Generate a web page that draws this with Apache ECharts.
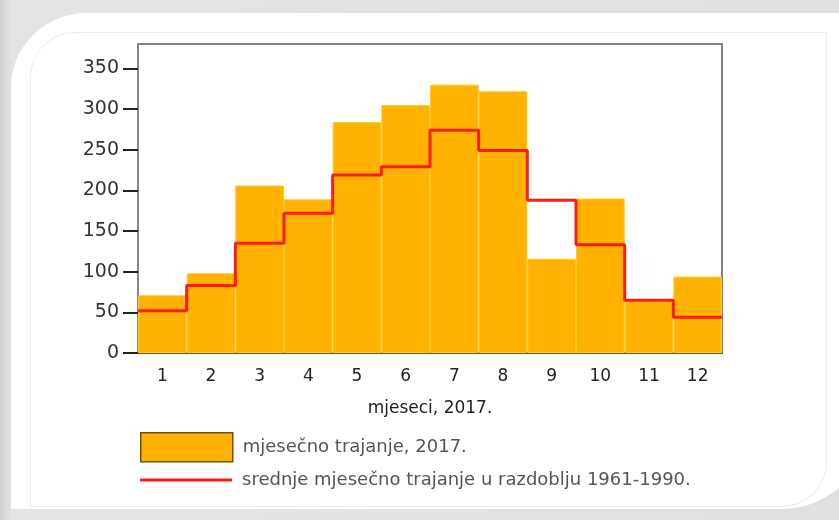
<!DOCTYPE html>
<html>
<head>
<meta charset="utf-8">
<script src="https://cdn.jsdelivr.net/npm/echarts@6/dist/echarts.min.js"></script>
<style>
  html, body { margin: 0; padding: 0; }
  body { width: 839px; height: 520px; position: relative; overflow: hidden;
         background: linear-gradient(90deg, #d0d0d0 0px, #e4e4e4 12px, #e0e0e0 100%); }
  .card { position: absolute; left: 11px; top: 13px; width: 860px; height: 496px;
          background: #fff; border-radius: 75px 0 90px 0; }
  .inner { position: absolute; left: 30px; top: 32px; width: 795px; height: 473px;
           border: 1px solid #ececec; border-radius: 45px 0 45px 0; }
  #main { position: absolute; left: 0; top: 0; width: 839px; height: 520px; }
</style>
</head>
<body>
<div class="card"></div>
<div class="inner"></div>
<div id="main"></div>
<script>
// mjeseci
const months = ['1', '2', '3', '4', '5', '6', '7', '8', '9', '10', '11', '12'];
// mjesečno trajanje, 2017. (sati)
const sunHours2017 = [71, 98, 206, 189, 284, 305, 330, 322, 116, 190, 64, 94];
// srednje mjesečno trajanje 1961-1990.
const sunHoursMean = [52, 83, 135, 172, 219, 229, 274, 249, 188, 133, 65, 44];
const yTicks = [0, 50, 100, 150, 200, 250, 300, 350];

const barName = 'mjesečno trajanje, 2017.';
const lineName = 'srednje mjesečno trajanje u razdoblju 1961-1990.';

// stepenasta linija preko cijelog mjeseca: od početka prvog do kraja zadnjeg
const meanSteps = sunHoursMean.map((v, i) => [i, v]);
meanSteps.push([sunHoursMean.length, sunHoursMean[sunHoursMean.length - 1]]);

const chart = echarts.init(document.getElementById('main'));
chart.setOption({
  animation: false,
  backgroundColor: 'transparent',
  textStyle: { fontFamily: 'DejaVu Sans' },
  grid: {
    left: 138, right: 117, top: 44, bottom: 167,
    show: true,
    borderColor: '#808080',
    borderWidth: 2
  },
  legend: [{
    left: 140, top: 432,
    padding: 0,
    itemWidth: 92, itemHeight: 29,
    selectedMode: false,
    textStyle: { color: '#555', fontSize: 18, padding: [0, 0, 0, 5] },
    data: [{ name: barName, icon: 'rect', itemStyle: { borderColor: '#6b5200', borderWidth: 1.5 } }]
  }, {
    left: 140, top: 471,
    padding: 0,
    itemWidth: 92, itemHeight: 18,
    selectedMode: false,
    textStyle: { color: '#555', fontSize: 18, padding: [0, 0, 0, 5] },
    data: [{ name: lineName, icon: 'path://M0,8.5 L92,8.5 L92,11.5 L0,11.5 Z', itemStyle: { color: '#ff1a1a' } }]
  }],
  xAxis: [{
    type: 'category',
    data: months,
    name: 'mjeseci, 2017.',
    nameLocation: 'middle',
    nameGap: 47,
    nameTextStyle: { color: '#222', fontSize: 17 },
    axisLine: { lineStyle: { color: '#6e5a1e', width: 2 } },
    axisTick: { length: 8, lineStyle: { color: '#888', width: 1.5 } },
    axisLabel: { color: '#222', fontSize: 17, margin: 15 }
  }, {
    type: 'value',
    min: 0,
    max: months.length,
    show: false
  }],
  yAxis: {
    type: 'value',
    min: 0,
    max: 380,
    interval: 50,
    splitLine: { show: false },
    axisLine: { show: true, lineStyle: { color: '#888', width: 2 } },
    axisTick: { show: true, length: 15, customValues: yTicks, lineStyle: { color: '#222', width: 2 } },
    axisLabel: { color: '#333', fontSize: 19, margin: 19, customValues: yTicks }
  },
  series: [{
    name: barName,
    type: 'bar',
    data: sunHours2017,
    barCategoryGap: '0%',
    itemStyle: { color: '#ffb300', borderColor: '#ffca28', borderWidth: 1 }
  }, {
    name: lineName,
    type: 'line',
    xAxisIndex: 1,
    data: meanSteps,
    step: 'end',
    symbol: 'none',
    z: 5,
    itemStyle: { color: '#ff1a1a' },
    lineStyle: { color: '#ff1a1a', width: 3 }
  }]
});
</script>
</body>
</html>
